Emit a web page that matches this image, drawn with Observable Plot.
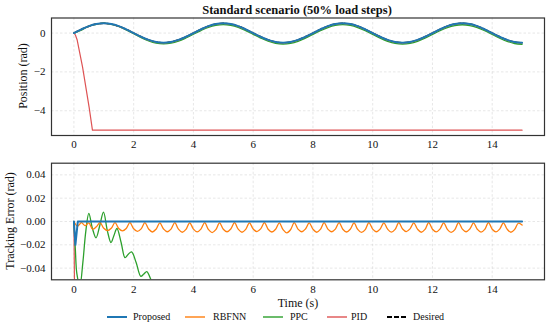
<!DOCTYPE html>
<html><head><meta charset="utf-8">
<script src="https://cdn.jsdelivr.net/npm/d3@7"></script>
<script src="https://cdn.jsdelivr.net/npm/@observablehq/plot@0.6"></script>
<style>
body{margin:0;background:#fff;}
#wrap{position:relative;width:550px;height:326px;font-family:"Liberation Serif","Times New Roman",serif;color:#111;overflow:hidden;background:#fff}
#wrap svg, #wrap svg text{font-family:"Liberation Serif","Times New Roman",serif !important;}
.abs{position:absolute;white-space:nowrap;line-height:1}
</style></head><body><div id="wrap"></div>
<script>
// ---------- data ----------
const title = "Standard scenario (50% load steps)";
const seriesNames = ["Proposed", "RBFNN", "PPC", "PID", "Desired"];
const seriesColors = ["#1f77b4", "#ff7f0e", "#2ca02c", "#de5354", "#000000"];
const xTicks = [0, 2, 4, 6, 8, 10, 12, 14];
const yTicksTop = [-4, -2, 0];
const yTicksBottom = [-0.04, -0.02, 0, 0.02, 0.04];

// top panel: sampled every 0.25 s
const dtTop = 0.25;
const desired = [
  0, 0.191, 0.354, 0.462, 0.5, 0.462, 0.354, 0.191, 0, -0.191, -0.354, -0.462, -0.5, -0.462, -0.354, -0.191,
  0, 0.191, 0.354, 0.462, 0.5, 0.462, 0.354, 0.191, 0, -0.191, -0.354, -0.462, -0.5, -0.462, -0.354, -0.191,
  0, 0.191, 0.354, 0.462, 0.5, 0.462, 0.354, 0.191, 0, -0.191, -0.354, -0.462, -0.5, -0.462, -0.354, -0.191,
  0, 0.191, 0.354, 0.462, 0.5, 0.462, 0.354, 0.191, 0, -0.191, -0.354, -0.462, -0.5
];
const ppcOffset = [
  0, -0.045, 0.007, -0.013, 0.008, -0.018, -0.007, -0.031, -0.027, -0.046, -0.046, -0.055, -0.058,
  -0.06, -0.062, -0.061, -0.063, -0.064, -0.063, -0.065, -0.064, -0.066, -0.065,
  -0.066, -0.067, -0.066, -0.067, -0.068, -0.067, -0.068, -0.069, -0.068, -0.068,
  -0.069, -0.07, -0.069, -0.07, -0.07, -0.071, -0.07, -0.071, -0.072, -0.071,
  -0.072, -0.071, -0.072, -0.073, -0.072, -0.073, -0.074, -0.073, -0.074, -0.073,
  -0.074, -0.075, -0.074, -0.075, -0.076, -0.075, -0.076, -0.077
];
const pidT   = [0, 0.05, 0.11, 0.29, 0.51, 0.62, 15];
const pidPos = [0, -0.1, -0.36, -1.75, -3.83, -5.0, -5.0];

// bottom panel: tracking errors
const dtErr = 0.125;
const rbfnnErr = [
  0, -0.004, -0.001, -0.0035, -0.0012, -0.0065, -0.0045, -0.001, -0.0058, -0.0078, -0.0058, -0.001, -0.006, -0.008, -0.006, -0.001, -0.0062,
  -0.0085, -0.0063, -0.001, -0.0064,
  -0.009, -0.0066, -0.0012, -0.0064,
  -0.0088, -0.0065, -0.001, -0.0066,
  -0.0092, -0.0068, -0.0011, -0.0065,
  -0.0089, -0.0065, -0.001, -0.0068,
  -0.0095, -0.007, -0.0012, -0.0066,
  -0.0088, -0.0064, -0.001, -0.0066,
  -0.0092, -0.0068, -0.0012, -0.0064,
  -0.0086, -0.0063, -0.001, -0.0066,
  -0.009, -0.0066, -0.0011, -0.007,
  -0.0097, -0.0071, -0.001, -0.0065,
  -0.0088, -0.0064, -0.0012, -0.0066,
  -0.0092, -0.0067, -0.001, -0.0065,
  -0.0088, -0.0065, -0.001, -0.0066,
  -0.009, -0.0066, -0.0012, -0.0068,
  -0.0094, -0.0069, -0.001, -0.0065,
  -0.0088, -0.0064, -0.0011, -0.0066,
  -0.0091, -0.0067, -0.001, -0.0064,
  -0.0086, -0.0063, -0.0012, -0.0066,
  -0.0092, -0.0068, -0.001, -0.0066,
  -0.0089, -0.0065, -0.0011, -0.0068,
  -0.0094, -0.0069, -0.001, -0.0065,
  -0.0088, -0.0064, -0.0012, -0.0066,
  -0.0091, -0.0067, -0.001, -0.0066,
  -0.0089, -0.0065, -0.0011, -0.0066,
  -0.0092, -0.0068, -0.0015, -0.003
];
const proposedErrT = [0, 0.05, 0.13, 15];
const proposedErr  = [0, -0.02, 0, 0];
const ppcErrT = [0, 0.05, 0.1, 0.2, 0.3, 0.4, 0.5, 0.62, 0.74, 0.87, 0.99, 1.12, 1.24, 1.34, 1.44, 1.58, 1.71, 1.82, 1.93, 2.08, 2.24, 2.34, 2.44, 2.58, 2.75, 3.0];
const ppcErr  = [0, -0.025, -0.045, -0.055, -0.035, -0.008, 0.007, -0.006, -0.014, -0.003, 0.008, -0.008, -0.018, -0.012, -0.006, -0.018, -0.031, -0.028, -0.026, -0.035, -0.047, -0.045, -0.043, -0.05, -0.058, -0.06];
const pidErrT = [0, 0.05, 0.11, 15];
const pidErr  = [0, -0.14, -0.56, -4.5];

// ---------- tables ----------
const col = Object.fromEntries(seriesNames.map((n, i) => [n, seriesColors[i]]));
const topDesired = desired.map((v, i) => ({t: i * dtTop, v}));
const topProposed = desired.map((v, i) => ({t: i * dtTop, v}));
const topRbfnn = desired.map((v, i) => ({t: i * dtTop, v: v + rbfnnErr[2 * i]}));
const topPpc = desired.map((v, i) => ({t: i * dtTop, v: v + ppcOffset[i]}));
const topPid = pidT.map((t, i) => ({t, v: pidPos[i]}));

const eRbfnn = rbfnnErr.map((v, i) => ({t: i * dtErr, v}));
const eProposed = proposedErrT.map((t, i) => ({t, v: proposedErr[i]}));
const ePpc = ppcErrT.map((t, i) => ({t, v: ppcErr[i]}));
const ePid = pidErrT.map((t, i) => ({t, v: pidErr[i]}));

const FONT = "'Liberation Serif', 'Times New Roman', serif";
const fmt = (d, n) => (Math.abs(d) < 1e-12 ? 0 : d).toFixed(n).replace("-", "\u2212");
const style = {fontFamily: FONT, fontSize: "11px", color: "#111", background: "transparent", overflow: "visible"};
const gridStyle = {stroke: "#bbb", strokeOpacity: 0.6, strokeWidth: 0.6, strokeDasharray: "2.5,2"};
const axisOpts = {tickSize: 0, fontFamily: FONT, fontSize: 11, label: null};

const xScale = {domain: [-0.75, 15.75]};

const topPlot = Plot.plot({
  width: 550, height: 155, marginLeft: 51, marginRight: 6, marginTop: 17.5, marginBottom: 20,
  x: xScale, y: {domain: [-5.275, 0.775]}, style,
  marks: [
    Plot.gridX(xTicks, gridStyle),
    Plot.gridY(yTicksTop, gridStyle),
    Plot.axisX(xTicks, {...axisOpts, tickPadding: 5, tickFormat: d => fmt(d, 0)}),
    Plot.axisY(yTicksTop, {...axisOpts, tickPadding: 6, tickFormat: d => fmt(d, 0)}),
    Plot.line(topDesired, {x: "t", y: "v", stroke: col.Desired, strokeWidth: 1.5, strokeDasharray: "5,2", curve: "catmull-rom"}),
    Plot.line(topPid, {x: "t", y: "v", stroke: col.PID, strokeWidth: 1.2}),
    Plot.line(topPpc, {x: "t", y: "v", stroke: col.PPC, strokeWidth: 1.3, curve: "catmull-rom"}),
    Plot.line(topRbfnn, {x: "t", y: "v", stroke: col.RBFNN, strokeWidth: 1.3, curve: "catmull-rom"}),
    Plot.line(topProposed, {x: "t", y: "v", stroke: col.Proposed, strokeWidth: 2, curve: "catmull-rom"}),
    Plot.frame({stroke: "#333", strokeWidth: 1.2})
  ]
});

const bottomPlot = Plot.plot({
  width: 550, height: 171, marginLeft: 51, marginRight: 6, marginTop: 7.7, marginBottom: 46.7,
  x: xScale, y: {domain: [-0.05, 0.05]}, style,
  marks: [
    Plot.gridX(xTicks, gridStyle),
    Plot.gridY(yTicksBottom, gridStyle),
    Plot.axisX(xTicks, {...axisOpts, tickPadding: 5, tickFormat: d => fmt(d, 0)}),
    Plot.axisY(yTicksBottom, {...axisOpts, tickPadding: 6, tickFormat: d => fmt(d, 2)}),
    Plot.line(ePid, {x: "t", y: "v", stroke: col.PID, strokeWidth: 1.2, clip: true}),
    Plot.line(ePpc, {x: "t", y: "v", stroke: col.PPC, strokeWidth: 1.3, curve: "catmull-rom", clip: true}),
    Plot.line(eRbfnn, {x: "t", y: "v", stroke: col.RBFNN, strokeWidth: 1.3, curve: "catmull-rom", clip: true}),
    Plot.line(eProposed, {x: "t", y: "v", stroke: col.Proposed, strokeWidth: 2, clip: true}),
    Plot.frame({stroke: "#333", strokeWidth: 1.2})
  ]
});

const wrap = document.getElementById("wrap");
function place(el, x, y) { el.style.position = "absolute"; el.style.left = x + "px"; el.style.top = y + "px"; wrap.appendChild(el); }
place(topPlot, 0, 0);
place(bottomPlot, 0, 155);

function text(str, x, y, css, rotate) {
  const d = document.createElement("div");
  d.className = "abs";
  d.textContent = str;
  d.style.left = x + "px"; d.style.top = y + "px";
  d.style.transform = "translate(-50%,-50%)" + (rotate ? " rotate(-90deg)" : "");
  Object.assign(d.style, css);
  wrap.appendChild(d);
}
text(title, 297, 10, {fontWeight: "bold", fontSize: "12.5px"});
text("Position (rad)", 23, 76, {fontSize: "12px"}, true);
text("Tracking Error (rad)", 10, 221, {fontSize: "12px"}, true);
text("Time (s)", 298, 303, {fontSize: "12px"});

// legend
const swX = [107, 185, 263, 327, 387];
const lbX = [133, 213, 290, 351, 413];
const ly = 317;
seriesNames.forEach((n, i) => {
  const svg = d3.create("svg").attr("width", 20).attr("height", 6).style("position", "absolute")
    .style("left", swX[i] + "px").style("top", (ly - 3) + "px");
  svg.append("line").attr("x1", 0).attr("x2", 20).attr("y1", 3).attr("y2", 3)
    .attr("stroke", seriesColors[i]).attr("stroke-width", n === "Desired" ? 1.8 : (n === "Proposed" ? 2 : 1.4))
    .attr("stroke-dasharray", n === "Desired" ? "5,2" : null);
  wrap.appendChild(svg.node());
  const d = document.createElement("div");
  d.className = "abs";
  d.textContent = n;
  d.style.left = lbX[i] + "px"; d.style.top = ly + "px"; d.style.transform = "translate(0,-50%)";
  d.style.fontSize = "10px";
  wrap.appendChild(d);
});
</script></body></html>
